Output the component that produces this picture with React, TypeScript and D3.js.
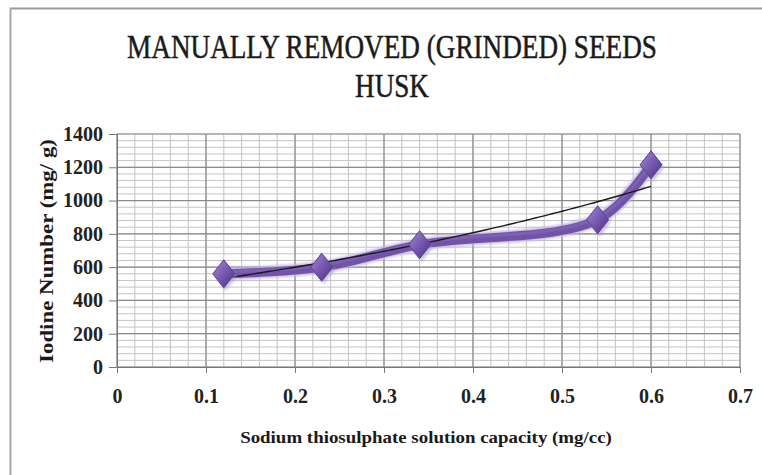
import React, { useEffect, useRef } from "react";
import * as d3 from "d3";

const xValues = [0.12, 0.23, 0.34, 0.54, 0.6];
const yValues = [560, 600, 735, 885, 1215];
const xTicks = [0, 0.1, 0.2, 0.3, 0.4, 0.5, 0.6, 0.7];
const yTicks = [0, 200, 400, 600, 800, 1000, 1200, 1400];
const titleLines = ["MANUALLY REMOVED (GRINDED) SEEDS", "HUSK"];
const xTitle = "Sodium thiosulphate solution capacity (mg/cc)";
const yTitle = "Iodine Number (mg/ g)";

const W = 762;
const H = 475;
const plot = { left: 117, right: 740, top: 134, bottom: 367 };
const serif = "'Liberation Serif', 'DejaVu Serif', serif";

export default function App() {
  const ref = useRef<SVGSVGElement>(null);

  useEffect(() => {
    const svg = d3.select(ref.current);
    svg.selectAll("*").remove();

    const x = d3.scaleLinear().domain([0, 0.7]).range([plot.left, plot.right]);
    const y = d3.scaleLinear().domain([0, 1400]).range([plot.bottom, plot.top]);

    const defs = svg.append("defs");
    const grad = defs
      .append("linearGradient")
      .attr("id", "dia")
      .attr("x1", "0")
      .attr("y1", "0")
      .attr("x2", "1")
      .attr("y2", "1");
    grad.append("stop").attr("offset", "0%").attr("stop-color", "#a38cd0");
    grad.append("stop").attr("offset", "50%").attr("stop-color", "#7759b0");
    grad.append("stop").attr("offset", "100%").attr("stop-color", "#4a2f80");
    const blur = defs.append("filter").attr("id", "blur").attr("x", "-20%").attr("y", "-50%").attr("width", "140%").attr("height", "200%");
    blur.append("feGaussianBlur").attr("stdDeviation", 1.4);

    svg.append("rect").attr("width", W).attr("height", H).attr("fill", "#fff");

    // outer chart frame (top and left visible)
    svg.append("line").attr("x1", 10).attr("x2", W).attr("y1", 8.5).attr("y2", 8.5).attr("stroke", "#9a9a9a").attr("stroke-width", 2);
    svg.append("line").attr("x1", 10.5).attr("x2", 10.5).attr("y1", 8).attr("y2", H).attr("stroke", "#a8a8a8").attr("stroke-width", 2);

    // minor gridlines
    const g = svg.append("g");
    const minorX = d3.range(0, 0.7001, 0.02);
    const minorY = d3.range(0, 1400.1, 40);
    g.selectAll(".mx")
      .data(minorX)
      .join("line")
      .attr("x1", (d) => x(d))
      .attr("x2", (d) => x(d))
      .attr("y1", plot.top)
      .attr("y2", plot.bottom)
      .attr("stroke", "#c4c4c4")
      .attr("stroke-width", 1);
    g.selectAll(".my")
      .data(minorY)
      .join("line")
      .attr("x1", plot.left)
      .attr("x2", plot.right)
      .attr("y1", (d) => y(d))
      .attr("y2", (d) => y(d))
      .attr("stroke", "#c4c4c4")
      .attr("stroke-width", 1);
    // major gridlines
    g.selectAll(".Mx")
      .data(xTicks)
      .join("line")
      .attr("x1", (d) => x(d))
      .attr("x2", (d) => x(d))
      .attr("y1", plot.top)
      .attr("y2", plot.bottom)
      .attr("stroke", "#8a8a8a")
      .attr("stroke-width", 1.2);
    g.selectAll(".My")
      .data(yTicks)
      .join("line")
      .attr("x1", plot.left)
      .attr("x2", plot.right)
      .attr("y1", (d) => y(d))
      .attr("y2", (d) => y(d))
      .attr("stroke", "#8a8a8a")
      .attr("stroke-width", 1.2);

    // axes
    const yAxis = d3.axisLeft(y).tickValues(yTicks).tickSize(8).tickPadding(6).tickFormat((d) => String(d));
    const ya = svg.append("g").attr("transform", `translate(${plot.left},0)`).call(yAxis);
    ya.select(".domain").attr("stroke", "#777");
    ya.selectAll(".tick line").attr("stroke", "#777");
    ya.selectAll("text")
      .attr("font-family", serif)
      .attr("font-size", 20)
      .attr("font-weight", "bold")
      .attr("fill", "#222");

    const xAxis = d3.axisBottom(x).tickValues(xTicks).tickSize(6).tickPadding(16).tickFormat((d) => String(d));
    const xa = svg.append("g").attr("transform", `translate(0,${plot.bottom})`).call(xAxis);
    xa.select(".domain").attr("stroke", "#777");
    xa.selectAll(".tick line").attr("stroke", "#777");
    xa.selectAll("text")
      .attr("font-family", serif)
      .attr("font-size", 20)
      .attr("font-weight", "bold")
      .attr("fill", "#222");

    // data line (smoothed)
    const pts: [number, number][] = xValues.map((v, i) => [v, yValues[i]]);
    const line = d3
      .line<[number, number]>()
      .x((d) => x(d[0]))
      .y((d) => y(d[1]))
      .curve(d3.curveCatmullRom.alpha(0.5));
    svg.append("path").attr("d", line(pts)).attr("fill", "none").attr("stroke", "#c2b4de").attr("stroke-width", 12).attr("filter", "url(#blur)").attr("stroke-linecap", "round");
    svg.append("path").attr("d", line(pts)).attr("fill", "none").attr("stroke", "#7253aa").attr("stroke-width", 9).attr("stroke-linecap", "round");
    svg.append("path").attr("d", line(pts)).attr("fill", "none").attr("stroke", "#8569bb").attr("stroke-width", 3).attr("transform", "translate(0,-2)").attr("opacity", 0.6);

    // exponential trendline
    const lx = xValues;
    const ly = yValues.map((v) => Math.log(v));
    const mx = d3.mean(lx) as number;
    const my = d3.mean(ly) as number;
    const b =
      d3.sum(lx.map((v, i) => (v - mx) * (ly[i] - my))) / d3.sum(lx.map((v) => (v - mx) * (v - mx)));
    const a = my - b * mx;
    const tx = d3.range(d3.min(lx) as number, (d3.max(lx) as number) + 1e-9, 0.005);
    const trend = d3
      .line<number>()
      .x((d) => x(d))
      .y((d) => y(Math.exp(a + b * d)));
    svg.append("path").attr("d", trend(tx)).attr("fill", "none").attr("stroke", "#1a1a1a").attr("stroke-width", 1.4);

    // diamond markers
    const mk = svg.append("g");
    pts.forEach((p) => {
      const cx = x(p[0]);
      const cy = y(p[1]);
      const hw = 11;
      const hh = 14;
      const dpath = `M${cx},${cy - hh} L${cx + hw},${cy} L${cx},${cy + hh} L${cx - hw},${cy} Z`;
      mk.append("path").attr("d", dpath).attr("fill", "#a897c8").attr("filter", "url(#blur)").attr("transform", "translate(2,3)").attr("opacity", 0.6);
      mk.append("path").attr("d", dpath).attr("fill", "url(#dia)").attr("stroke", "#5a3e92").attr("stroke-width", 1);
    });

    // condensed text via measured horizontal scale
    const condensed = (
      txt: string,
      cx: number,
      cy: number,
      width: number,
      size: number,
      weight: string,
      thick: number,
      rotate = 0
    ) => {
      const grp = svg.append("g").attr("transform", `translate(${cx},${cy}) rotate(${rotate})`);
      const t = grp
        .append("text")
        .attr("x", 0)
        .attr("y", 0)
        .attr("text-anchor", "middle")
        .attr("font-family", serif)
        .attr("font-size", size)
        .attr("font-weight", weight)
        .attr("fill", "#1a1a1a")
        .text(txt);
      if (thick > 0) t.attr("stroke", "#1a1a1a").attr("stroke-width", thick);
      const node = t.node() as SVGTextElement;
      const natural = node.getComputedTextLength();
      const sx = natural > 0 ? width / natural : 1;
      t.attr("transform", `scale(${sx},1)`);
    };

    condensed(titleLines[0], 392, 58, 530, 34, "normal", 0.5);
    condensed(titleLines[1], 392, 97, 74, 34, "normal", 0.5);
    condensed(xTitle, 426, 443, 372, 17, "bold", 0);
    condensed(yTitle, 53, 251, 224, 18, "bold", 0, -90);
  }, []);

  return (
    <svg
      ref={ref}
      width={W}
      height={H}
      style={{ position: "absolute", left: 0, top: 0, display: "block" }}
    />
  );
}
